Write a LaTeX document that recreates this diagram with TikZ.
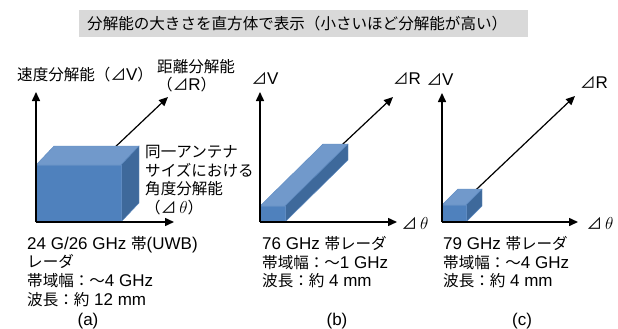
\documentclass[tikz,border=0pt]{standalone}
\usepackage{fontspec}
\setmainfont{Liberation Sans}
\newfontfamily\jp[Scale=0.915]{Noto Sans CJK JP}
\usetikzlibrary{arrows.meta}
\definecolor{boxfront}{HTML}{4F81BD}
\definecolor{boxtop}{HTML}{7199CB}
\definecolor{boxside}{HTML}{3E699B}
\definecolor{boxedge}{HTML}{5E8BC2}
\definecolor{titlegray}{HTML}{D9D9D9}
\newcommand\J[1]{{\jp #1}}
\newcommand\mycuboid[6]{%
  \filldraw[fill=boxtop, draw=boxedge, line width=0.4pt] (#1,#2) -- ({#1+#5},{#2-#6}) -- ({#3+#5},{#2-#6}) -- (#3,#2) -- cycle;
  \filldraw[fill=boxside, draw=boxedge, line width=0.4pt] (#3,#2) -- ({#3+#5},{#2-#6}) -- ({#3+#5},{#4-#6}) -- (#3,#4) -- cycle;
  \filldraw[fill=boxfront, draw=boxedge, line width=0.4pt] (#1,#2) rectangle (#3,#4);
}
\begin{document}
\begin{tikzpicture}[x=1pt,y=-1pt,
  axis/.style={line width=1.5pt, -{Triangle[length=9pt,width=8pt]}},
  diag/.style={line width=1.2pt, -{Triangle[length=9pt,width=8pt]}},
  lbl/.style={font=\fontsize{17}{18.7}\selectfont, inner sep=0pt},
  multi/.style={lbl, align=left, anchor=north west}]
\useasboundingbox (0,0) rectangle (618,329);
\fill[white] (0,0) rectangle (618,329);

% title
\node[lbl, fill=titlegray, anchor=west, text width=433pt, inner xsep=8pt, minimum height=27pt, align=left] (title) at (79,23.5)
  {\J{分解能の大きさを直方体で表示（小さいほど分解能が高い）}};

% ---------- panel (a)
\coordinate (oa) at (36,222);
\coordinate (va) at (36,92);
\coordinate (ta) at (174,222);
\coordinate (ra) at (168,97);
\draw[diag] (oa) -- (ra);
\mycuboid{36}{165}{121}{222}{18}{19}
\draw[axis] (oa) -- (va);
\draw[axis] (oa) -- (ta);
\node[lbl, anchor=west] (vlabA) at (17,75) {\J{速度分解能（⊿}V\J{）}};
\node[multi] (rlabA) at (157,59) {\J{距離分解能}\\\J{（⊿}R\J{）}};
\node[multi] (tlabA) at (145,145) {\J{同一アンテナ}\\\J{サイズにおける}\\\J{角度分解能}\\\J{（⊿}\kern3pt$\theta$\J{）}};
\node[multi] (txtA) at (27,236) {24 G/26 GHz \J{帯}(UWB)\\\J{レーダ}\\\J{帯域幅：～}4 GHz\\\J{波長：約} 12 mm};
\node[lbl] (capA) at (88,321) {(a)};

% ---------- panel (b)
\coordinate (ob) at (260,222);
\coordinate (vb) at (260,92);
\coordinate (tb) at (397,222);
\coordinate (rb) at (393,97);
\draw[diag] (ob) -- (rb);
\mycuboid{260}{206}{285}{222}{63}{62}
\draw[axis] (ob) -- (vb);
\draw[axis] (ob) -- (tb);
\node[lbl] (vlabB) at (265,78) {\J{⊿}V};
\node[lbl] (rlabB) at (407,78) {\J{⊿}R};
\node[lbl] (tlabB) at (415,223) {\J{⊿}\kern3pt$\theta$};
\node[multi] (txtB) at (262,236) {76 GHz \J{帯レーダ}\\\J{帯域幅：～}1 GHz\\\J{波長：約} 4 mm};
\node[lbl] (capB) at (337,321) {(b)};

% ---------- panel (c)
\coordinate (oc) at (442,222);
\coordinate (vc) at (442,93);
\coordinate (tc) at (578,222);
\coordinate (rc) at (575,96);
\draw[diag] (oc) -- (rc);
\mycuboid{442}{205}{466}{222}{16}{16}
\draw[axis] (oc) -- (vc);
\draw[axis] (oc) -- (tc);
\node[lbl] (vlabC) at (440,79) {\J{⊿}V};
\node[lbl] (rlabC) at (594,82) {\J{⊿}R};
\node[lbl] (tlabC) at (600,223) {\J{⊿}\kern3pt$\theta$};
\node[multi] (txtC) at (443,236) {79 GHz \J{帯レーダ}\\\J{帯域幅：～}4 GHz\\\J{波長：約} 4 mm};
\node[lbl] (capC) at (522,321) {(c)};
\end{tikzpicture}
\end{document}
